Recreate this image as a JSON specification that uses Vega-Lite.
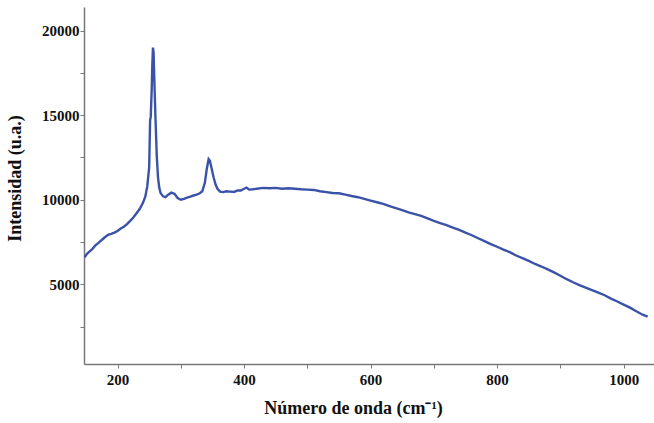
{
  "$schema": "https://vega.github.io/schema/vega-lite/v6.json",
  "autosize": "none",
  "width": 570,
  "height": 357,
  "padding": {"left": 84, "top": 7, "right": 0, "bottom": 59},
  "background": "white",
  "config": {"view": {"stroke": null}},
  "data": {"values": [
    {"w":148,"i":6600},{"w":152,"i":6820},{"w":156,"i":6950},{"w":160,"i":7080},{"w":165,"i":7300},{"w":170,"i":7450},{"w":175,"i":7620},{"w":180,"i":7780},{"w":185,"i":7920},{"w":190,"i":7980},{"w":195,"i":8060},{"w":200,"i":8150},{"w":205,"i":8300},{"w":210,"i":8400},{"w":215,"i":8560},{"w":220,"i":8750},{"w":225,"i":8950},{"w":230,"i":9200},{"w":235,"i":9450},{"w":240,"i":9800},{"w":244,"i":10200},{"w":247,"i":10800},{"w":250,"i":11900},{"w":251.5,"i":14700},{"w":252.5,"i":14900},{"w":254,"i":16500},{"w":255,"i":18000},{"w":256,"i":19000},{"w":257,"i":18700},{"w":258,"i":17300},{"w":260,"i":14800},{"w":262,"i":12600},{"w":264,"i":11300},{"w":266,"i":10700},{"w":268,"i":10400},{"w":272,"i":10200},{"w":276,"i":10150},{"w":280,"i":10300},{"w":285,"i":10420},{"w":290,"i":10350},{"w":295,"i":10100},{"w":300,"i":10000},{"w":305,"i":10050},{"w":310,"i":10120},{"w":315,"i":10180},{"w":320,"i":10250},{"w":325,"i":10300},{"w":330,"i":10380},{"w":334,"i":10500},{"w":338,"i":11000},{"w":341,"i":11800},{"w":344,"i":12400},{"w":346,"i":12300},{"w":349,"i":11800},{"w":352,"i":11300},{"w":355,"i":10900},{"w":358,"i":10650},{"w":362,"i":10480},{"w":367,"i":10450},{"w":372,"i":10500},{"w":378,"i":10480},{"w":384,"i":10460},{"w":390,"i":10550},{"w":395,"i":10550},{"w":400,"i":10650},{"w":404,"i":10720},{"w":408,"i":10600},{"w":414,"i":10620},{"w":420,"i":10650},{"w":430,"i":10700},{"w":440,"i":10680},{"w":450,"i":10700},{"w":460,"i":10650},{"w":470,"i":10680},{"w":480,"i":10650},{"w":490,"i":10620},{"w":500,"i":10600},{"w":510,"i":10580},{"w":520,"i":10500},{"w":530,"i":10450},{"w":540,"i":10400},{"w":550,"i":10380},{"w":560,"i":10300},{"w":570,"i":10220},{"w":580,"i":10150},{"w":590,"i":10050},{"w":600,"i":9950},{"w":610,"i":9850},{"w":620,"i":9750},{"w":630,"i":9620},{"w":640,"i":9500},{"w":650,"i":9380},{"w":660,"i":9250},{"w":670,"i":9150},{"w":680,"i":9050},{"w":690,"i":8900},{"w":700,"i":8750},{"w":710,"i":8620},{"w":720,"i":8500},{"w":730,"i":8350},{"w":740,"i":8220},{"w":750,"i":8050},{"w":760,"i":7900},{"w":770,"i":7720},{"w":780,"i":7550},{"w":790,"i":7380},{"w":800,"i":7220},{"w":810,"i":7050},{"w":820,"i":6900},{"w":830,"i":6700},{"w":840,"i":6550},{"w":850,"i":6380},{"w":860,"i":6200},{"w":870,"i":6050},{"w":880,"i":5880},{"w":890,"i":5700},{"w":900,"i":5500},{"w":910,"i":5300},{"w":920,"i":5120},{"w":930,"i":4950},{"w":940,"i":4800},{"w":950,"i":4650},{"w":960,"i":4500},{"w":970,"i":4350},{"w":980,"i":4150},{"w":990,"i":3980},{"w":1000,"i":3800},{"w":1010,"i":3620},{"w":1020,"i":3400},{"w":1030,"i":3200},{"w":1038,"i":3080}
  ]},
  "mark": {"type": "line", "color": "#3a53a8", "strokeWidth": 2.4, "clip": true},
  "encoding": {
    "x": {
      "field": "w", "type": "quantitative",
      "scale": {"domain": [147, 1048], "nice": false, "zero": false},
      "axis": {
        "title": "Número de onda (cm⁻¹)",
        "values": [200, 300, 400, 500, 600, 700, 800, 900, 1000],
        "labelExpr": "datum.value % 200 === 0 ? datum.label : ''",
        "format": "d",
        "grid": false,
        "domainColor": "#777777", "domainWidth": 1.5,
        "tickColor": "#777777", "tickSize": 4,
        "labelFont": "Liberation Serif", "labelFontWeight": "bold", "labelFontSize": 15, "labelColor": "#111111",
        "labelPadding": 4,
        "titleFont": "Liberation Serif", "titleFontWeight": "bold", "titleFontSize": 18, "titleColor": "#111111",
        "titleX": 269, "titleY": 35, "titleBaseline": "top", "titleAnchor": "middle"
      }
    },
    "y": {
      "field": "i", "type": "quantitative",
      "scale": {"domain": [284, 21400], "nice": false, "zero": false},
      "axis": {
        "title": "Intensidad (u.a.)",
        "values": [2500, 5000, 7500, 10000, 12500, 15000, 17500, 20000],
        "labelExpr": "datum.value % 5000 === 0 ? datum.label : ''",
        "format": "d",
        "grid": false,
        "domainColor": "#777777", "domainWidth": 1.5,
        "tickColor": "#777777", "tickSize": 4,
        "labelFont": "Liberation Serif", "labelFontWeight": "bold", "labelFontSize": 15, "labelColor": "#111111",
        "labelPadding": 1,
        "titleFont": "Liberation Serif", "titleFontWeight": "bold", "titleFontSize": 18, "titleColor": "#111111",
        "titleX": -60, "titleY": 171, "titleAnchor": "middle"
      }
    }
  }
}
